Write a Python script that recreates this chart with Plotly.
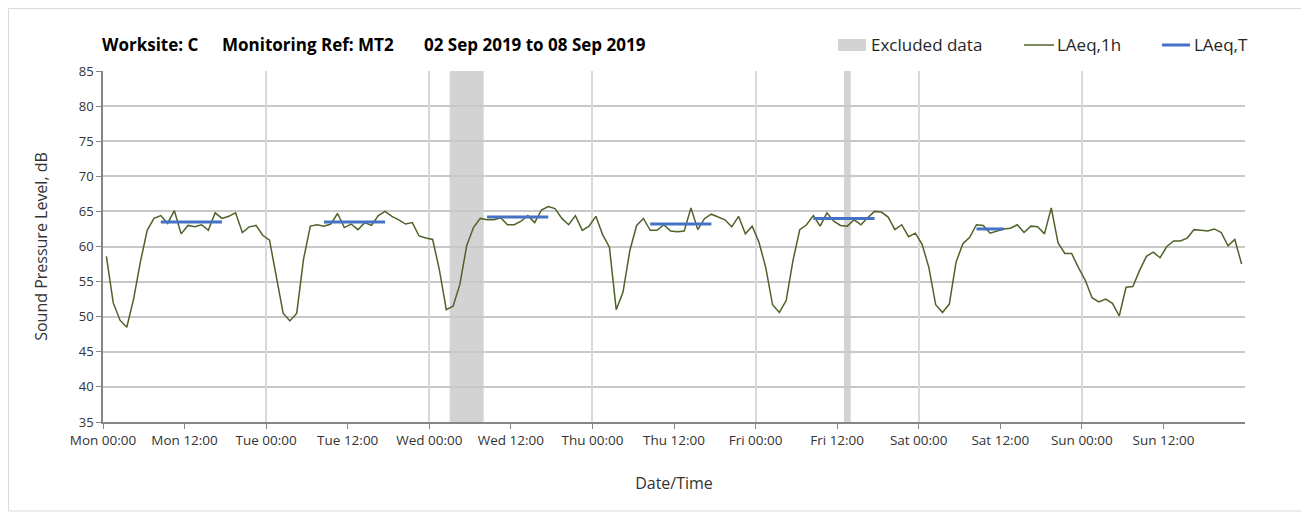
import pandas as pd
import plotly.graph_objects as go

# LAeq,1h readings, one per hour, Mon 02 Sep 2019 00:00 to Sun 08 Sep 2019 23:00
laeq_mon = [58.6, 52.0, 49.5, 48.5, 52.5, 57.8, 62.3, 64.0, 64.4, 63.3, 65.1, 61.8,
            63.0, 62.8, 63.1, 62.3, 64.8, 64.0, 64.3, 64.8, 62.0, 62.8, 63.0, 61.6]
laeq_tue = [60.9, 55.6, 50.5, 49.4, 50.5, 58.2, 62.9, 63.1, 62.9, 63.2, 64.7, 62.7,
            63.2, 62.4, 63.4, 63.0, 64.4, 65.0, 64.3, 63.8, 63.2, 63.4, 61.5, 61.2]
laeq_wed = [61.0, 56.6, 51.0, 51.5, 54.6, 60.1, 62.7, 64.0, 63.8, 63.8, 64.1, 63.1,
            63.1, 63.6, 64.4, 63.4, 65.2, 65.7, 65.4, 64.0, 63.1, 64.4, 62.3, 62.9]
laeq_thu = [64.3, 61.7, 59.9, 51.0, 53.5, 59.4, 63.0, 64.0, 62.3, 62.3, 63.1, 62.2,
            62.1, 62.2, 65.5, 62.4, 64.0, 64.6, 64.2, 63.8, 62.8, 64.3, 61.8, 62.9]
laeq_fri = [60.6, 57.0, 51.7, 50.6, 52.3, 58.0, 62.4, 63.1, 64.4, 62.9, 64.8, 63.6,
            63.0, 62.9, 63.8, 63.1, 64.1, 65.0, 64.9, 64.2, 62.4, 63.1, 61.4, 61.9]
laeq_sat = [60.3, 57.0, 51.7, 50.6, 51.8, 57.8, 60.4, 61.3, 63.1, 63.0, 61.9, 62.2,
            62.5, 62.6, 63.1, 62.0, 62.9, 62.8, 61.8, 65.5, 60.5, 59.0, 59.0, 57.0]
laeq_sun = [55.2, 52.7, 52.1, 52.5, 51.9, 50.1, 54.2, 54.3, 56.6, 58.6, 59.2, 58.4,
            60.0, 60.8, 60.8, 61.2, 62.4, 62.3, 62.2, 62.5, 62.0, 60.1, 61.0, 57.5]

laeq_1h = laeq_mon + laeq_tue + laeq_wed + laeq_thu + laeq_fri + laeq_sat + laeq_sun
# each hourly value is plotted at the middle of its hour
hours = pd.date_range("2019-09-02 00:30", periods=len(laeq_1h), freq="h")

# LAeq,T over the working period of each day
lat_start = ["2019-09-02 08:30", "2019-09-03 08:30", "2019-09-04 08:30",
             "2019-09-05 08:30", "2019-09-06 08:30", "2019-09-07 08:30"]
lat_end = ["2019-09-02 17:30", "2019-09-03 17:30", "2019-09-04 17:30",
           "2019-09-05 17:30", "2019-09-06 17:30", "2019-09-07 12:30"]
lat_value = [63.5, 63.5, 64.2, 63.2, 64.0, 62.5]

# excluded periods
excl_start = ["2019-09-04 03:00", "2019-09-06 13:00"]
excl_end = ["2019-09-04 08:00", "2019-09-06 14:00"]

x_start = "2019-09-02 00:00"
x_end = "2019-09-09 00:00"
# tick every 12 hours, the closing Mon 00:00 is left unlabelled
tick_times = pd.date_range(x_start, "2019-09-08 12:00", freq="12h")

GREEN = "#4f6228"
BLUE = "#4472c4"
GREY_BAND = "#d3d3d3"
FONT = "Open Sans"

# the page body has an 8px margin, so the figure starts at (8, 8) on the page
OFF = 8
W, H = 1301, 507
L, R, T, B = 95, 64, 63, 93
PW, PH = W - L - R, H - T - B


def px_x(px):
    # page pixel -> paper coordinate
    return (px - OFF - L) / PW


def px_y(py):
    return (H - B - (py - OFF)) / PH


fig = go.Figure()

lat_x, lat_y = [], []
for s, e, v in zip(lat_start, lat_end, lat_value):
    lat_x += [s, e, None]
    lat_y += [v, v, None]

fig.add_trace(go.Scatter(x=hours, y=laeq_1h, mode="lines", name="LAeq,1h",
                         line=dict(color=GREEN, width=1.5)))
fig.add_trace(go.Scatter(x=lat_x, y=lat_y, mode="lines", name="LAeq,T",
                         line=dict(color=BLUE, width=3)))
# helper trace for the daily vertical gridlines
fig.add_trace(go.Scatter(x=[x_start, x_end], y=[None, None], xaxis="x2",
                         showlegend=False, hoverinfo="skip"))

for s, e in zip(excl_start, excl_end):
    fig.add_vrect(x0=s, x1=e, fillcolor=GREY_BAND, opacity=1, line_width=0, layer="below")

# chart area border
fig.add_shape(type="rect", xref="paper", yref="paper",
              x0=px_x(8.5), x1=px_x(1303), y0=px_y(511), y1=px_y(8.5),
              line=dict(color="#d9d9d9", width=1), fillcolor="rgba(0,0,0,0)")

# legend drawn by hand to match the original placement
fig.add_shape(type="rect", xref="paper", yref="paper",
              x0=px_x(838), x1=px_x(866), y0=px_y(51), y1=px_y(39),
              fillcolor=GREY_BAND, line_width=0)
fig.add_shape(type="line", xref="paper", yref="paper",
              x0=px_x(1024), x1=px_x(1054), y0=px_y(45), y1=px_y(45),
              line=dict(color=GREEN, width=1.5))
fig.add_shape(type="line", xref="paper", yref="paper",
              x0=px_x(1162), x1=px_x(1190), y0=px_y(45), y1=px_y(45),
              line=dict(color=BLUE, width=3))

legend_text = [("Excluded data", 869), ("LAeq,1h", 1055), ("LAeq,T", 1192)]
for txt, xp in legend_text:
    fig.add_annotation(text=txt, x=px_x(xp), y=px_y(45), xref="paper", yref="paper",
                       xanchor="left", yanchor="middle", showarrow=False,
                       font=dict(family=FONT, size=17, color="#262626"))

title_parts = [("Worksite: C", 100), ("Monitoring Ref: MT2", 220),
               ("02 Sep 2019 to 08 Sep 2019", 422)]
for txt, xp in title_parts:
    fig.add_annotation(text="<b>" + txt + "</b>", x=px_x(xp), y=px_y(44),
                       xref="paper", yref="paper", xanchor="left", yanchor="middle",
                       showarrow=False, font=dict(family=FONT, size=17, color="#000000"))

fig.update_layout(
    width=W, height=H,
    margin=dict(l=L, r=R, t=T, b=B),
    paper_bgcolor="white", plot_bgcolor="white",
    showlegend=False,
    font=dict(family=FONT, size=13, color="#333333"),
    xaxis=dict(
        type="date", range=[x_start, x_end],
        tickvals=tick_times, tickformat="%a %H:%M",
        showgrid=False, zeroline=False,
        showline=True, linecolor="#868686", linewidth=1.5,
        ticks="outside", ticklen=5, tickcolor="#868686",
        tickfont=dict(size=13.5),
        title=dict(text="Date/Time", font=dict(size=16), standoff=30),
    ),
    xaxis2=dict(
        type="date", overlaying="x", matches="x", range=[x_start, x_end],
        dtick=24 * 3600 * 1000, tick0=x_start,
        showgrid=True, gridcolor="#d9d9d9", gridwidth=1.5,
        showticklabels=False, ticks="", showline=False, zeroline=False,
    ),
    yaxis=dict(
        range=[35, 85], dtick=5,
        showgrid=True, gridcolor="#c8c8c8", gridwidth=1.5, zeroline=False,
        showline=True, linecolor="#868686", linewidth=1.5,
        ticks="outside", ticklen=5, tickcolor="#868686",
        tickfont=dict(size=13),
        title=dict(text="Sound Pressure Level, dB", font=dict(size=16), standoff=27),
    ),
)

fig.write_html("out.html")
